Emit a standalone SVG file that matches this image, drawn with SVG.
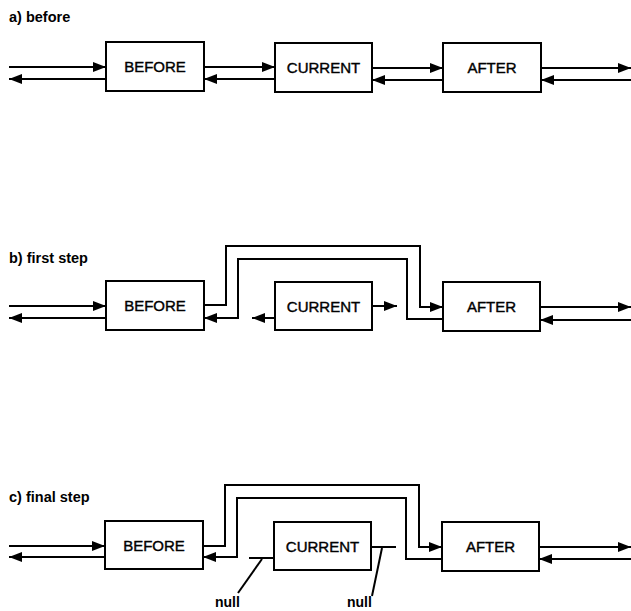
<svg xmlns="http://www.w3.org/2000/svg" width="631" height="611" viewBox="0 0 631 611">
<defs>
<marker id="ah" markerUnits="userSpaceOnUse" markerWidth="13" markerHeight="10" refX="13" refY="5" orient="auto">
<path d="M0,0 L13,5 L0,10 z" fill="#000"/>
</marker>
<style>
.box{fill:#fff;stroke:#000;stroke-width:2}
.lbl{font-family:"Liberation Sans",Arial,sans-serif;font-size:15px;fill:#000;stroke:#000;stroke-width:0.4;text-anchor:middle}
.ttl{font-family:"Liberation Sans",Arial,sans-serif;font-size:14.5px;font-weight:bold;fill:#000}
.nul{font-family:"Liberation Sans",Arial,sans-serif;font-size:14px;font-weight:bold;fill:#000}
.ln{fill:none;stroke:#000;stroke-width:2}
.ar{fill:none;stroke:#000;stroke-width:2;marker-end:url(#ah)}
</style>
</defs>
<text class="ttl" x="9" y="22">a) before</text>
<text class="ttl" x="9" y="263">b) first step</text>
<text class="ttl" x="9" y="502">c) final step</text>

<g id="a-before"><rect class="box" x="106" y="42" width="98" height="49"/><text class="lbl" x="155" y="72">BEFORE</text></g>
<g id="a-current"><rect class="box" x="275" y="43" width="97" height="49"/><text class="lbl" x="323.5" y="73">CURRENT</text></g>
<g id="a-after"><rect class="box" x="443" y="43" width="98" height="49"/><text class="lbl" x="492" y="73">AFTER</text></g>

<g id="b-before"><rect class="box" x="106" y="281" width="98" height="49"/><text class="lbl" x="155" y="311">BEFORE</text></g>
<g id="b-current"><rect class="box" x="275" y="282" width="97" height="48"/><text class="lbl" x="323.5" y="312">CURRENT</text></g>
<g id="b-after"><rect class="box" x="443" y="282" width="97" height="49"/><text class="lbl" x="491.5" y="312">AFTER</text></g>

<g id="c-before"><rect class="box" x="105" y="521" width="98" height="48"/><text class="lbl" x="154" y="551">BEFORE</text></g>
<g id="c-current"><rect class="box" x="274" y="522" width="97" height="48"/><text class="lbl" x="322.5" y="552">CURRENT</text></g>
<g id="c-after"><rect class="box" x="442" y="522" width="97" height="49"/><text class="lbl" x="490.5" y="552">AFTER</text></g>

<g id="connectors">
<path class="ar" d="M9,67 H106"/>
<path class="ar" d="M106,79 H9"/>
<path class="ar" d="M204,67 H275"/>
<path class="ar" d="M275,79 H204"/>
<path class="ar" d="M372,68 H443"/>
<path class="ar" d="M443,80 H372"/>
<path class="ar" d="M541,68 H631"/>
<path class="ar" d="M631,80 H541"/>

<path class="ar" d="M9,306 H106"/>
<path class="ar" d="M106,318 H9"/>
<path class="ar" d="M204,305 H226 V246 H420 V307 H443"/>
<path class="ar" d="M443,319 H407 V259 H238 V318 H204"/>
<path class="ar" d="M275,318 H252"/>
<path class="ar" d="M372,306 H397"/>
<path class="ar" d="M540,307 H631"/>
<path class="ar" d="M631,320 H540"/>

<path class="ar" d="M9,546 H105"/>
<path class="ar" d="M105,557 H9"/>
<path class="ar" d="M203,546 H225 V485 H419 V547 H442"/>
<path class="ar" d="M442,559 H406 V498 H237 V557 H203"/>
<path class="ln" d="M249,558 H274"/>
<path class="ln" d="M371,547 H396"/>
<path class="ln" d="M262,559 L238,593"/>
<path class="ln" d="M382,548 L372,596"/>
<path class="ar" d="M539,547 H631"/>
<path class="ar" d="M631,559 H539"/>
</g>
<text class="nul" x="215" y="607">null</text>
<text class="nul" x="347" y="607">null</text>
</svg>
